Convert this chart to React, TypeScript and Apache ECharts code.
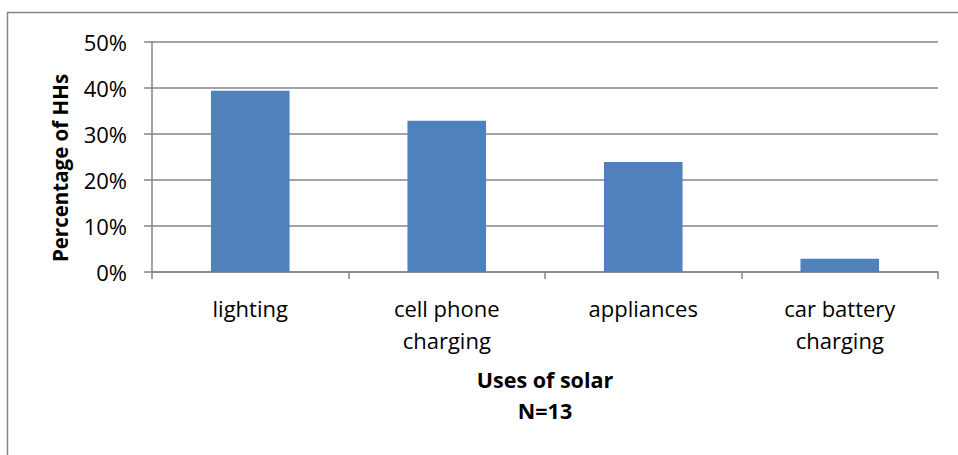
import React, { useEffect, useRef } from "react";
import * as echarts from "echarts";

const categories = ["lighting", "cell phone\ncharging", "appliances", "car battery\ncharging"];
const values = [39.4, 32.9, 23.9, 2.9];
const yTicks = [0, 10, 20, 30, 40, 50];
const xTitle = "Uses of solar\nN=13";
const yTitle = "Percentage of HHs";

const FONT = "'Open Sans', sans-serif";

export default function App() {
  const ref = useRef<HTMLDivElement>(null);
  useEffect(() => {
    if (!ref.current) return;
    const chart = echarts.init(ref.current, null, { renderer: "svg" });
    chart.setOption({
      animation: false,
      backgroundColor: "#ffffff",
      textStyle: { fontFamily: FONT },
      graphic: [
        {
          type: "rect",
          shape: { x: 7.5, y: 12.5, width: 1000, height: 1000 },
          style: { fill: "none", stroke: "#868686", lineWidth: 1.5 },
          silent: true,
        },
      ],
      grid: { left: 152, right: 20, top: 42, bottom: 183, containLabel: false },
      xAxis: {
        type: "category",
        data: categories,
        boundaryGap: true,
        axisLine: { show: true, lineStyle: { color: "#868686", width: 1.5 } },
        axisTick: { show: true, alignWithLabel: false, length: 7, lineStyle: { color: "#868686", width: 1.5 } },
        axisLabel: {
          color: "#000",
          fontSize: 22,
          fontFamily: FONT,
          lineHeight: 32,
          margin: 20,
          interval: 0,
        },
        name: xTitle,
        nameLocation: "middle",
        nameGap: 92,
        nameTextStyle: {
          color: "#000",
          fontSize: 21.5,
          fontWeight: "bold",
          fontFamily: FONT,
          lineHeight: 31,
        },
      },
      yAxis: {
        type: "value",
        min: yTicks[0],
        max: yTicks[yTicks.length - 1],
        interval: 10,
        axisLine: { show: true, lineStyle: { color: "#868686", width: 1.5 } },
        axisTick: { show: true, length: 8, lineStyle: { color: "#868686", width: 1.5 } },
        splitLine: { show: true, lineStyle: { color: "#868686", width: 1.5 } },
        axisLabel: {
          color: "#000",
          fontSize: 22,
          fontFamily: FONT,
          margin: 25,
          formatter: (v: number) => `${v}%`,
        },
        name: yTitle,
        nameLocation: "middle",
        nameGap: 82,
        nameRotate: 90,
        nameTextStyle: {
          color: "#000",
          fontSize: 20.5,
          fontWeight: "bold",
          fontFamily: FONT,
          padding: [0, 22, 0, 0],
        },
      },
      series: [
        {
          type: "bar",
          data: values,
          barWidth: "40%",
          itemStyle: { color: "#4F81BD" },
        },
      ],
    });
    return () => chart.dispose();
  }, []);
  return (
    <div
      ref={ref}
      style={{ position: "absolute", left: 0, top: 0, width: 958, height: 455 }}
    />
  );
}
